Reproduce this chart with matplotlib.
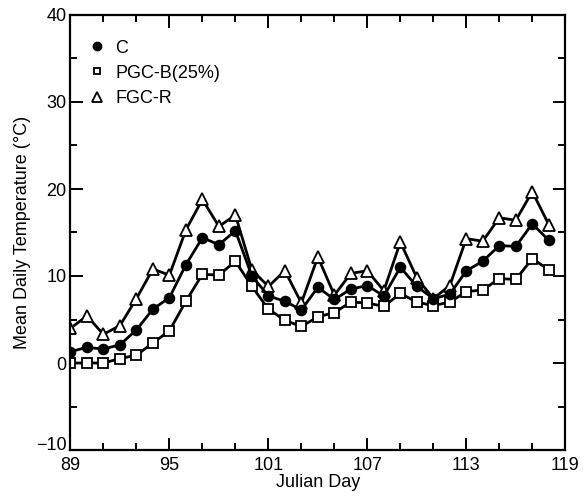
import numpy as np
import matplotlib.pyplot as plt
from matplotlib.transforms import ScaledTranslation

plt.rcParams['font.family'] = ['Liberation Sans', 'DejaVu Sans']

# =========================
# Data
# =========================
days = list(range(89, 119))

temp_c = [1.3, 1.8, 1.6, 2.1, 3.8, 6.2, 7.5, 11.3, 14.4, 13.6,
          15.2, 10.0, 7.7, 7.1, 6.1, 8.7, 7.3, 8.5, 8.9, 7.7,
          11.0, 8.8, 7.4, 7.9, 10.6, 11.7, 13.5, 13.4, 16.0, 14.1]

temp_pgc = [0.0, 0.0, 0.0, 0.5, 0.9, 2.3, 3.7, 7.1, 10.2, 10.1,
            11.7, 8.8, 6.2, 4.9, 4.2, 5.3, 5.8, 7.0, 6.9, 6.5,
            8.0, 7.0, 6.6, 7.0, 8.2, 8.4, 9.7, 9.6, 12.0, 10.7]

temp_fgc = [4.0, 5.4, 3.3, 4.3, 7.4, 10.8, 10.1, 15.3, 18.8, 15.7,
            17.0, 10.7, 8.8, 10.6, 6.9, 12.2, 7.8, 10.3, 10.6, 8.3,
            13.9, 9.8, 7.4, 8.9, 14.3, 14.0, 16.7, 16.4, 19.7, 15.9]

labels = ["C", "PGC-B(25%)", "FGC-R"]

x_major = list(range(89, 120, 6))
x_minor = list(range(91, 119, 2))
y_major = [-10, 0, 10, 20, 30, 40]
y_minor = [-5, 5, 15, 25, 35]

# =========================
# Plot
# =========================
fig = plt.figure(figsize=(5.87, 5.00), dpi=100)
ax = fig.add_axes([0.120, 0.100, 0.843, 0.870])

line_kw = dict(color="black", linewidth=2.0, markeredgewidth=1.3)

ax.plot(days, temp_fgc, marker="^", markersize=9,
        markerfacecolor="white", markeredgecolor="black", **line_kw)
ax.plot(days, temp_pgc, marker="s", markersize=6.5,
        markerfacecolor="white", markeredgecolor="black", **line_kw)
ax.plot(days, temp_c, marker="o", markersize=7,
        markerfacecolor="black", markeredgecolor="black", **line_kw)

# legend as marker + text, no frame
leg_handles = [
    plt.Line2D([], [], linestyle="none", marker="o", markersize=6,
               markerfacecolor="black", markeredgecolor="black"),
    plt.Line2D([], [], linestyle="none", marker="s", markersize=5,
               markerfacecolor="white", markeredgecolor="black", markeredgewidth=1.3),
    plt.Line2D([], [], linestyle="none", marker="^", markersize=6.5,
               markerfacecolor="white", markeredgecolor="black", markeredgewidth=1.3),
]
ax.legend(leg_handles, labels, loc="upper left", frameon=False,
          fontsize=13, handlelength=0.8, handletextpad=0.6,
          labelspacing=0.45, borderaxespad=0.0, bbox_to_anchor=(0.025, 0.96))

ax.set_xlim(89, 119)
ax.set_ylim(-10, 40)
ax.set_xticks(x_major)
ax.set_xticks(x_minor, minor=True)
ax.set_yticks(y_major)
ax.set_yticks(y_minor, minor=True)

ax.tick_params(which="both", direction="in", top=True, right=True,
               labelsize=13, width=1.4)
ax.tick_params(which="major", length=9)
ax.tick_params(which="minor", length=5)
ax.tick_params(axis="x", pad=5)
ax.tick_params(axis="y", pad=3)
for s in ax.spines.values():
    s.set_linewidth(1.6)

# the -10 label sits a little higher so it clears the "89" below it
fig.canvas.draw()
lowest = ax.yaxis.get_major_ticks()[0].label1
lowest.set_transform(lowest.get_transform()
                     + ScaledTranslation(0, 5 / 72, fig.dpi_scale_trans))

ax.set_xlabel("Julian Day", fontsize=13, labelpad=0)
ax.set_ylabel("Mean Daily Temperature (\u00b0C)", fontsize=13, labelpad=3)

plt.savefig("out.png", dpi=100)
